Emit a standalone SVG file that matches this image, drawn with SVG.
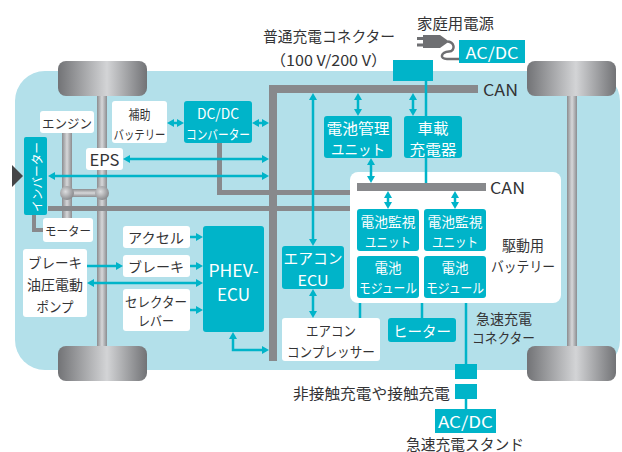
<svg xmlns="http://www.w3.org/2000/svg" width="622" height="452" viewBox="0 0 622 452">
  <style>
    text { font-family: "Noto Sans CJK JP", "Noto Sans", sans-serif; dominant-baseline: central; text-anchor: middle; }
    .t { fill: #333335; }
    .w { fill: #ffffff; }
    .teal { fill: #00b4c9; }
    .wbox { fill: #ffffff; }
    .gbar { fill: none; stroke: #88898c; stroke-linejoin: miter; stroke-linecap: butt; }
    .con { fill: none; stroke: #00b4c9; stroke-width: 2.5; }
    .arr { marker-end: url(#ah); }
    .arr2 { marker-start: url(#ah); marker-end: url(#ah); }
  </style>
  <defs>
    <linearGradient id="tire" x1="0" y1="0" x2="1" y2="0">
      <stop offset="0" stop-color="#727376"/>
      <stop offset="0.55" stop-color="#d3d4d6"/>
      <stop offset="1" stop-color="#727376"/>
    </linearGradient>
    <linearGradient id="shaft" x1="0" y1="0" x2="1" y2="0">
      <stop offset="0" stop-color="#8b8c8f"/>
      <stop offset="0.5" stop-color="#d6d7d9"/>
      <stop offset="1" stop-color="#8b8c8f"/>
    </linearGradient>
    <linearGradient id="shaftH" x1="0" y1="0" x2="0" y2="1">
      <stop offset="0" stop-color="#8b8c8f"/>
      <stop offset="0.5" stop-color="#d6d7d9"/>
      <stop offset="1" stop-color="#8b8c8f"/>
    </linearGradient>
    <radialGradient id="joint" cx="0.4" cy="0.4" r="0.6">
      <stop offset="0" stop-color="#dcdddf"/>
      <stop offset="1" stop-color="#8c8d90"/>
    </radialGradient>
    <marker id="ah" markerUnits="userSpaceOnUse" markerWidth="8" markerHeight="8" refX="4" refY="4" orient="auto-start-reverse">
      <path d="M0,0 L7,4 L0,8 z" fill="#00b4c9"/>
    </marker>
  </defs>

  <!-- vehicle body -->
  <rect x="15" y="71" width="605" height="299" rx="30" fill="#b3e0ea"/>

  <!-- chassis: axles, wheels, engine shaft -->
  <g id="chassis">
    <rect x="97" y="94" width="10" height="254" fill="url(#shaft)"/>
    <rect x="567" y="94" width="10" height="254" fill="url(#shaft)"/>
    <rect x="62" y="130" width="10" height="92" fill="url(#shaft)"/>
    <rect x="67" y="189" width="36" height="8" fill="url(#shaftH)"/>
    <circle cx="67" cy="193" r="7" fill="url(#joint)"/>
    <circle cx="102" cy="193" r="7" fill="url(#joint)"/>
    <rect x="58" y="61" width="89" height="35" rx="8" fill="url(#tire)"/>
    <rect x="58" y="346" width="89" height="35" rx="8" fill="url(#tire)"/>
    <rect x="527" y="61" width="89" height="35" rx="8" fill="url(#tire)"/>
    <rect x="527" y="346" width="89" height="35" rx="8" fill="url(#tire)"/>
  </g>

  <!-- battery enclosure -->
  <rect id="battery-pack" x="350" y="172" width="211" height="131" rx="8" fill="#ffffff"/>

  <!-- connectors -->
  <g id="connectors">
    <!-- wiring / CAN buses -->
    <path class="gbar" d="M219.5,143 V192.5 H350" stroke-width="5"/>
    <path class="gbar" d="M48,208.5 H350" stroke-width="5"/>
    <path class="gbar" d="M34,215 V230 H43" stroke-width="4"/>
    <path class="gbar" d="M273,361 V89 H478" stroke-width="8"/>
    <path class="gbar" d="M357,187 H486" stroke-width="8"/>

    <!-- signal / power lines -->
    <path class="con" d="M426,81 V183"/>
    <path class="con" d="M360,303 V318"/>
    <path class="con" d="M422,303 V318"/>
    <path class="con" d="M466,303 V364"/>
    <path class="con" d="M466,399 V409"/>

    <path class="con arr2" d="M170,123 H181"/>
    <path class="con arr2" d="M255,123 H266"/>
    <path class="con arr2" d="M126,159 H266"/>
    <path class="con arr2" d="M51,176 H266"/>
    <path class="con arr2" d="M313,96 V243"/>
    <path class="con arr2" d="M313,292 V315"/>
    <path class="con arr2" d="M358,96 V113"/>
    <path class="con arr2" d="M413,96 V113"/>
    <path class="con arr2" d="M371,161 V180"/>
    <path class="con arr2" d="M388,194 V206"/>
    <path class="con arr2" d="M455,194 V206"/>
    <path class="con arr" d="M190,237 H200"/>
    <path class="con arr" d="M190,266 H200"/>
    <path class="con arr" d="M190,310 H200"/>
    <path class="con arr" d="M87,266 H120"/>
    <path class="con arr2" d="M90,283 H200"/>
    <path class="con arr2" d="M233,335 V350 H266"/>
  </g>

  <!-- inverter -->
  <g id="inverter">
    <path d="M12,165 L23,176 L12,187 z" fill="#454547"/>
    <rect class="teal" x="24" y="137" width="23" height="78" rx="2"/>
    <text class="w" font-size="12" transform="translate(36,177) rotate(-90)" textLength="70" lengthAdjust="spacingAndGlyphs">インバーター</text>
  </g>

  <g id="engine">
    <rect class="wbox" x="40" y="111" width="54" height="22" rx="3"/>
    <text class="t" x="67" y="122" font-size="13" textLength="50" lengthAdjust="spacingAndGlyphs">エンジン</text>
  </g>

  <g id="motor">
    <rect class="wbox" x="43" y="218" width="50" height="24" rx="3"/>
    <text class="t" x="68" y="230" font-size="12" textLength="46" lengthAdjust="spacingAndGlyphs">モーター</text>
  </g>

  <g id="eps">
    <rect class="wbox" x="86" y="148" width="37" height="22" rx="3"/>
    <text class="t" x="104.5" y="159" font-size="16" textLength="30" lengthAdjust="spacingAndGlyphs">EPS</text>
  </g>

  <g id="aux-battery">
    <rect class="wbox" x="112" y="101" width="55" height="42" rx="3"/>
    <text class="t" x="139.5" y="113" font-size="13" textLength="22" lengthAdjust="spacingAndGlyphs">補助</text>
    <text class="t" x="139.5" y="133" font-size="13" textLength="52" lengthAdjust="spacingAndGlyphs">バッテリー</text>
  </g>

  <g id="dcdc">
    <rect class="teal" x="184" y="101" width="68" height="42" rx="3"/>
    <text class="w" x="218" y="113" font-size="14" textLength="42" lengthAdjust="spacingAndGlyphs">DC/DC</text>
    <text class="w" x="218" y="133" font-size="13" textLength="64" lengthAdjust="spacingAndGlyphs">コンバーター</text>
  </g>

  <g id="accel">
    <rect class="wbox" x="123" y="226" width="67" height="22" rx="3"/>
    <text class="t" x="156" y="237" font-size="14" textLength="56" lengthAdjust="spacingAndGlyphs">アクセル</text>
  </g>

  <g id="brake">
    <rect class="wbox" x="123" y="255" width="67" height="22" rx="3"/>
    <text class="t" x="156" y="266" font-size="14" textLength="56" lengthAdjust="spacingAndGlyphs">ブレーキ</text>
  </g>

  <g id="selector">
    <rect class="wbox" x="123" y="289" width="67" height="42" rx="3"/>
    <text class="t" x="156" y="301" font-size="13.5" textLength="62" lengthAdjust="spacingAndGlyphs">セレクター</text>
    <text class="t" x="156" y="320" font-size="13.5" textLength="36" lengthAdjust="spacingAndGlyphs">レバー</text>
  </g>

  <g id="brake-pump">
    <rect class="wbox" x="23" y="249" width="64" height="68" rx="3"/>
    <text class="t" x="55" y="262" font-size="14" textLength="54" lengthAdjust="spacingAndGlyphs">ブレーキ</text>
    <text class="t" x="55" y="284" font-size="14" textLength="56" lengthAdjust="spacingAndGlyphs">油圧電動</text>
    <text class="t" x="55" y="306" font-size="14" textLength="37" lengthAdjust="spacingAndGlyphs">ポンプ</text>
  </g>

  <g id="phev-ecu">
    <rect class="teal" x="203" y="226" width="61" height="106" rx="3"/>
    <text class="w" x="233.5" y="269" font-size="17" textLength="50" lengthAdjust="spacingAndGlyphs">PHEV-</text>
    <text class="w" x="233.5" y="293" font-size="17" textLength="33" lengthAdjust="spacingAndGlyphs">ECU</text>
  </g>

  <g id="ac-ecu">
    <rect class="teal" x="282" y="246" width="62" height="43" rx="3"/>
    <text class="w" x="313" y="257" font-size="14.5" textLength="59" lengthAdjust="spacingAndGlyphs">エアコン</text>
    <text class="w" x="313" y="279" font-size="14.5" textLength="31" lengthAdjust="spacingAndGlyphs">ECU</text>
  </g>

  <g id="ac-compressor">
    <rect class="wbox" x="282" y="318" width="98" height="43" rx="3"/>
    <text class="t" x="331" y="330" font-size="14" textLength="50" lengthAdjust="spacingAndGlyphs">エアコン</text>
    <text class="t" x="331" y="351" font-size="14" textLength="88" lengthAdjust="spacingAndGlyphs">コンプレッサー</text>
  </g>

  <g id="bmu">
    <rect class="teal" x="324" y="116" width="68" height="42" rx="3"/>
    <text class="w" x="358" y="127" font-size="14.5" textLength="63" lengthAdjust="spacingAndGlyphs">電池管理</text>
    <text class="w" x="358" y="148" font-size="14.5" textLength="54" lengthAdjust="spacingAndGlyphs">ユニット</text>
  </g>

  <g id="onboard-charger">
    <rect class="teal" x="404" y="116" width="58" height="42" rx="3"/>
    <text class="w" x="433" y="127" font-size="14.5" textLength="31" lengthAdjust="spacingAndGlyphs">車載</text>
    <text class="w" x="433" y="148" font-size="14.5" textLength="47" lengthAdjust="spacingAndGlyphs">充電器</text>
  </g>

  <g id="cmu-1">
    <rect class="teal" x="357" y="209" width="62" height="42" rx="3"/>
    <text class="w" x="388" y="220.5" font-size="13.5" textLength="55" lengthAdjust="spacingAndGlyphs">電池監視</text>
    <text class="w" x="388" y="240.5" font-size="13.5" textLength="46" lengthAdjust="spacingAndGlyphs">ユニット</text>
  </g>

  <g id="cmu-2">
    <rect class="teal" x="424" y="209" width="62" height="42" rx="3"/>
    <text class="w" x="455" y="220.5" font-size="13.5" textLength="55" lengthAdjust="spacingAndGlyphs">電池監視</text>
    <text class="w" x="455" y="240.5" font-size="13.5" textLength="46" lengthAdjust="spacingAndGlyphs">ユニット</text>
  </g>

  <g id="module-1">
    <rect class="teal" x="357" y="256" width="62" height="42" rx="3"/>
    <text class="w" x="388" y="267" font-size="13.5" textLength="27" lengthAdjust="spacingAndGlyphs">電池</text>
    <text class="w" x="388" y="287" font-size="13.5" textLength="58" lengthAdjust="spacingAndGlyphs">モジュール</text>
  </g>

  <g id="module-2">
    <rect class="teal" x="424" y="256" width="62" height="42" rx="3"/>
    <text class="w" x="455" y="267" font-size="13.5" textLength="27" lengthAdjust="spacingAndGlyphs">電池</text>
    <text class="w" x="455" y="287" font-size="13.5" textLength="58" lengthAdjust="spacingAndGlyphs">モジュール</text>
  </g>

  <g id="battery-label">
    <text class="t" x="523" y="244" font-size="14.5" textLength="42" lengthAdjust="spacingAndGlyphs">駆動用</text>
    <text class="t" x="523" y="265" font-size="14.5" textLength="64" lengthAdjust="spacingAndGlyphs">バッテリー</text>
  </g>

  <g id="heater">
    <rect class="teal" x="388" y="318" width="68" height="24" rx="3"/>
    <text class="w" x="422" y="330" font-size="15" textLength="58" lengthAdjust="spacingAndGlyphs">ヒーター</text>
  </g>

  <g id="can-labels">
    <text class="t" x="500.5" y="89" font-size="16" textLength="35" lengthAdjust="spacingAndGlyphs">CAN</text>
    <text class="t" x="507.5" y="187" font-size="16" textLength="35" lengthAdjust="spacingAndGlyphs">CAN</text>
  </g>

  <!-- normal charging inlet -->
  <g id="normal-inlet">
    <rect class="teal" x="393" y="60" width="40" height="21"/>
    <text class="t" x="329" y="35" font-size="15" textLength="132" lengthAdjust="spacingAndGlyphs">普通充電コネクター</text>
    <text class="t" x="328.5" y="59" font-size="15" textLength="117" lengthAdjust="spacingAndGlyphs">（100 V/200 V）</text>
  </g>

  <!-- household supply -->
  <g id="household">
    <text class="t" x="455.5" y="22" font-size="15" textLength="77" lengthAdjust="spacingAndGlyphs">家庭用電源</text>
    <rect x="417" y="37" width="7" height="3" fill="#6e6f72"/>
    <rect x="417" y="43.5" width="7" height="3" fill="#6e6f72"/>
    <path d="M423,35 H440 L447,40 V43 L440,48 H423 z" fill="#6e6f72"/>
    <path d="M446,41.5 C455,41 456,51 449,51.5 C441,52 439,59 447,59 H460" fill="none" stroke="#6e6f72" stroke-width="2.5"/>
    <rect class="teal" x="459" y="40" width="66" height="23"/>
    <text class="w" x="492" y="51.5" font-size="16" textLength="53" lengthAdjust="spacingAndGlyphs">AC/DC</text>
  </g>

  <!-- quick charging -->
  <g id="quick-charge">
    <text class="t" x="504" y="318" font-size="14" textLength="56" lengthAdjust="spacingAndGlyphs">急速充電</text>
    <text class="t" x="503.5" y="337" font-size="14" textLength="63" lengthAdjust="spacingAndGlyphs">コネクター</text>
    <rect class="teal" x="455" y="364" width="22" height="15"/>
    <rect class="teal" x="455" y="384" width="22" height="15"/>
    <text class="t" x="371.5" y="392" font-size="15" textLength="157" lengthAdjust="spacingAndGlyphs">非接触充電や接触充電</text>
    <rect class="teal" x="435" y="409" width="61" height="24"/>
    <text class="w" x="465.5" y="421" font-size="16" textLength="55" lengthAdjust="spacingAndGlyphs">AC/DC</text>
    <text class="t" x="465" y="443" font-size="15" textLength="118" lengthAdjust="spacingAndGlyphs">急速充電スタンド</text>
  </g>
</svg>
